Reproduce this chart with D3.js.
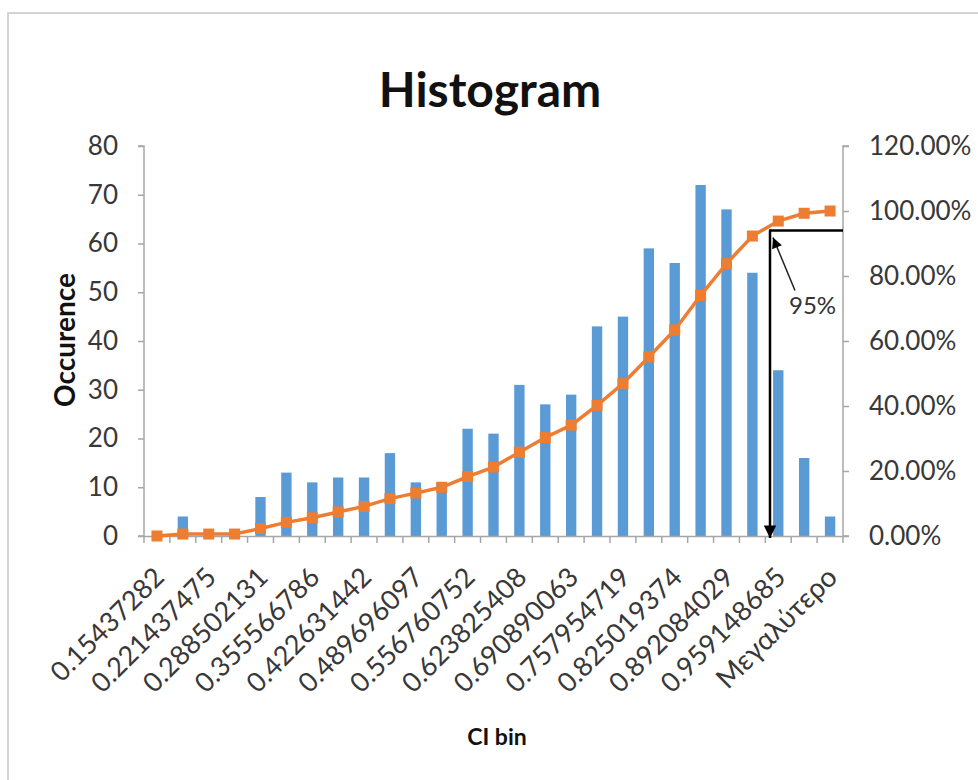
<!DOCTYPE html>
<html>
<head>
<meta charset="utf-8">
<script src="https://cdn.jsdelivr.net/npm/d3@7"></script>
<style>
  html, body { margin: 0; padding: 0; background: #fff; }
  svg { display: block; }
  text { font-family: Lato, "Open Sans", sans-serif; }
</style>
</head>
<body>
<svg id="chart" width="978" height="780"></svg>
<script>
// ---- data ----
const categories = ["0.15437282","0.187905148","0.221437475","0.254969803","0.288502131","0.322034458",
  "0.355566786","0.389099114","0.422631442","0.456163769","0.489696097","0.523228425","0.556760752",
  "0.59029308","0.623825408","0.657357735","0.690890063","0.724422391","0.757954719","0.791487046",
  "0.825019374","0.858551702","0.892084029","0.925616357","0.959148685","0.992681012","Μεγαλύτερο"];
const occurrences = [0,4,0,0,8,13,11,12,12,17,11,11,22,21,31,27,29,43,45,59,56,72,67,54,34,16,4];
const cumulative = [0,0.006,0.006,0.006,0.023,0.042,0.056,0.074,0.091,0.115,0.132,0.150,0.183,0.212,
  0.258,0.303,0.341,0.402,0.469,0.551,0.634,0.740,0.838,0.923,0.969,0.993,1.0];
const leftTicks = [0,10,20,30,40,50,60,70,80];
const rightTicks = [0,0.2,0.4,0.6,0.8,1.0,1.2];
const title = "Histogram";
const xTitle = "CI bin";
const yTitle = "Occurence";
const annotationLevel = 0.94;   // cumulative level marked by the black lines
const annotationLabel = "95%";

// ---- layout ----
const svg = d3.select("#chart");
const L = 144, R = 843, T = 146, B = 536;
const textColor = "#383838", axisColor = "#a6a6a6";

// chart frame
svg.append("rect").attr("x", 8).attr("y", 13).attr("width", 1000).attr("height", 1000)
  .attr("fill", "#fff").attr("stroke", "#d4d4d4").attr("stroke-width", 2);

const x = d3.scaleBand().domain(categories).range([L, R]).padding(0);
const y = d3.scaleLinear().domain([0, 80]).range([B, T]);
const yR = d3.scaleLinear().domain([0, 1.2]).range([B, T]);
const cx = d => x(d) + x.bandwidth() / 2;

// title
svg.append("text").attr("x", 490).attr("y", 107).attr("text-anchor", "middle")
  .attr("font-size", 48).attr("font-weight", 700).attr("fill", "#111").text(title);

// bars
const barW = x.bandwidth() * 0.4;
svg.append("g").selectAll("rect").data(occurrences).join("rect")
  .attr("x", (d, i) => cx(categories[i]) - barW / 2)
  .attr("y", d => y(d))
  .attr("width", barW)
  .attr("height", d => B - y(d))
  .attr("fill", "#5B9BD5");

// left axis
const gl = svg.append("g").attr("transform", `translate(${L},0)`)
  .call(d3.axisLeft(y).tickValues(leftTicks).tickSize(6).tickPadding(20).tickFormat(d3.format("d")));
// right axis
const gr = svg.append("g").attr("transform", `translate(${R},0)`)
  .call(d3.axisRight(yR).tickValues(rightTicks).tickSize(6).tickPadding(20).tickFormat(d3.format(".2%")));
// bottom axis (ticks at category boundaries)
const boundaries = categories.map(c => x(c)).concat([R]);
const gb = svg.append("g");
gb.append("line").attr("x1", L).attr("x2", R).attr("y1", B + 0.5).attr("y2", B + 0.5)
  .attr("stroke", axisColor).attr("stroke-width", 1.5);
gb.selectAll("line.tick").data(boundaries).join("line").attr("class", "tick")
  .attr("x1", d => d).attr("x2", d => d).attr("y1", B).attr("y2", B + 7)
  .attr("stroke", axisColor).attr("stroke-width", 1.5);
gb.selectAll("text").data(categories.filter((c, i) => i % 2 === 0)).join("text")
  .attr("transform", d => `translate(${cx(d) + 9},${B + 43}) rotate(-45)`)
  .attr("text-anchor", "end").attr("font-size", d => d === "Μεγαλύτερο" ? 28 : 27)
  .attr("fill", textColor).text(d => d);

[gl, gr].forEach(g => {
  g.select(".domain").attr("stroke", axisColor).attr("stroke-width", 1.5);
  g.selectAll(".tick line").attr("stroke", axisColor).attr("stroke-width", 1.5);
  g.selectAll(".tick text").attr("font-size", 26).attr("fill", textColor)
    .attr("font-family", "Lato, sans-serif");
});
gl.select(".domain").attr("d", `M-6,${T}H0V${B}H-6`);
gr.select(".domain").attr("d", `M6,${T}H0V${B}H6`);

// cumulative line
const line = d3.line().x((d, i) => cx(categories[i])).y(d => yR(d));
svg.append("path").datum(cumulative).attr("d", line)
  .attr("fill", "none").attr("stroke", "#ED7D31").attr("stroke-width", 3.5);
const ms = 11;
svg.append("g").selectAll("rect").data(cumulative).join("rect")
  .attr("x", (d, i) => cx(categories[i]) - ms / 2)
  .attr("y", d => yR(d) - ms / 2)
  .attr("width", ms).attr("height", ms).attr("fill", "#ED7D31");

// annotation
const defs = svg.append("defs");
defs.append("marker").attr("id", "bigHead").attr("viewBox", "0 0 10 10")
  .attr("refX", 10).attr("refY", 5).attr("markerWidth", 6).attr("markerHeight", 5)
  .attr("markerUnits", "strokeWidth").attr("orient", "auto")
  .append("path").attr("d", "M0,0L10,5L0,10Z").attr("fill", "#000");
defs.append("marker").attr("id", "smallHead").attr("viewBox", "0 0 10 10")
  .attr("refX", 10).attr("refY", 5).attr("markerWidth", 9).attr("markerHeight", 7)
  .attr("markerUnits", "strokeWidth").attr("orient", "auto")
  .append("path").attr("d", "M0,0L10,5L0,10Z").attr("fill", "#000");

const ay = yR(annotationLevel);
const ax = x(categories[24]) + x.bandwidth() * 0.18;
svg.append("line").attr("x1", ax - 1).attr("x2", R).attr("y1", ay).attr("y2", ay)
  .attr("stroke", "#000").attr("stroke-width", 2.5);
svg.append("line").attr("x1", ax).attr("x2", ax).attr("y1", ay).attr("y2", B + 2)
  .attr("stroke", "#000").attr("stroke-width", 2.5).attr("marker-end", "url(#bigHead)");
svg.append("line").attr("x1", ax + 25).attr("x2", ax + 3).attr("y1", ay + 60).attr("y2", ay + 7)
  .attr("stroke", "#222").attr("stroke-width", 1.5).attr("marker-end", "url(#smallHead)");
svg.append("text").attr("x", ax + 19).attr("y", ay + 83).attr("font-size", 24)
  .attr("fill", "#333").text(annotationLabel);

// axis titles
svg.append("text").attr("transform", `translate(75,340) rotate(-90)`)
  .attr("text-anchor", "middle").attr("font-size", 28).attr("font-weight", 700)
  .attr("fill", "#111").text(yTitle);
svg.append("text").attr("x", 497).attr("y", 745).attr("text-anchor", "middle")
  .attr("font-size", 23).attr("font-weight", 700).attr("fill", "#111").text(xTitle);
</script>
</body>
</html>
